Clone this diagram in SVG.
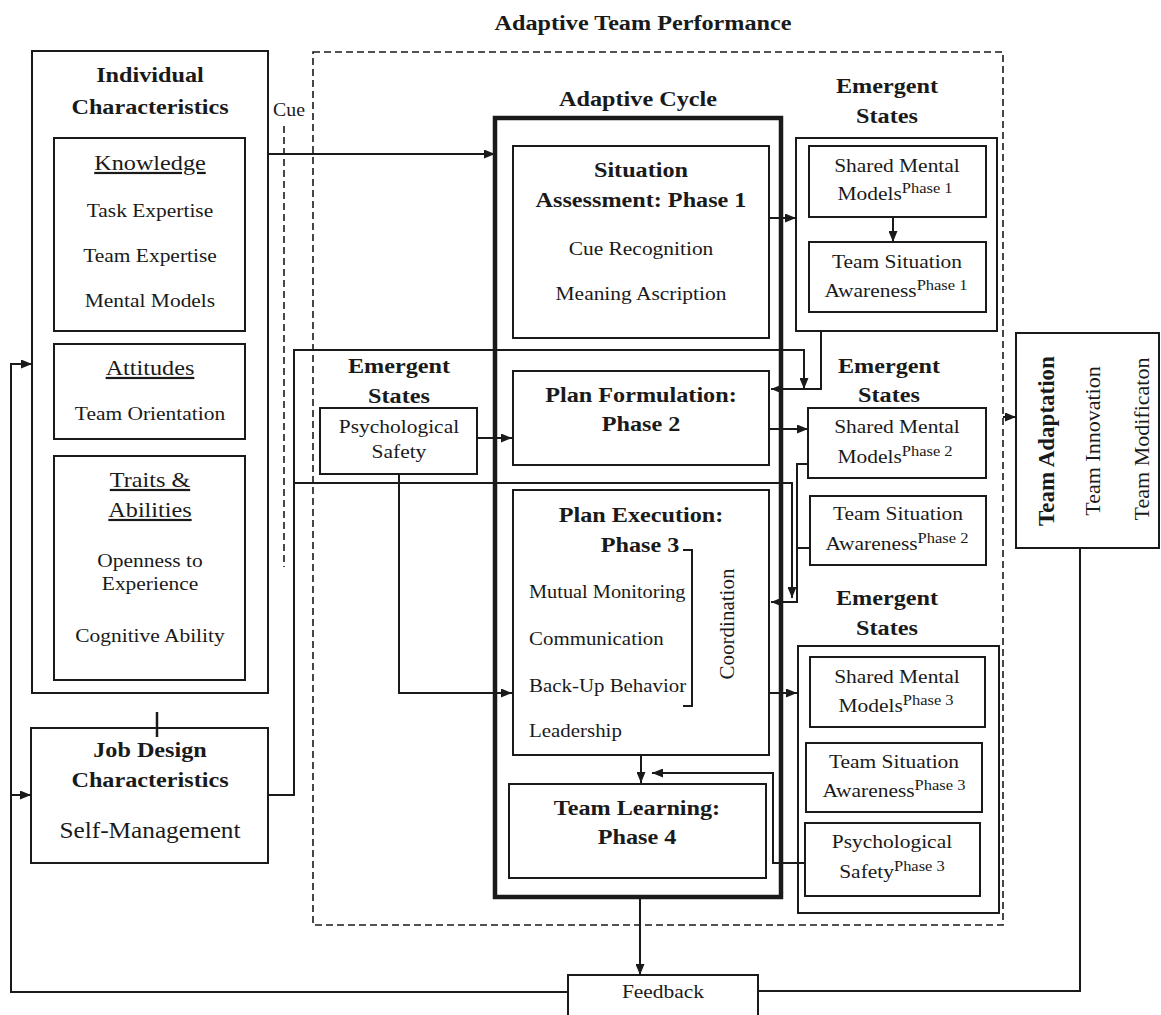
<svg xmlns="http://www.w3.org/2000/svg" width="1161" height="1015" viewBox="0 0 1161 1015">
<style>
text{font-family:"Liberation Serif","Times New Roman",serif;fill:#1a1a1a;font-size:19.5px;text-anchor:middle}
.s{transform-box:fill-box;transform-origin:center;transform:scaleX(1.1)}
.l{text-anchor:start;transform-box:fill-box;transform-origin:left center;transform:scaleX(1.1);font-size:19px}
.b{font-weight:bold;font-size:22px}
.u{text-decoration:underline;font-size:22px}
.sup{font-size:15px}
.box{fill:none;stroke:#1a1a1a;stroke-width:2}
.thick{fill:none;stroke:#1a1a1a;stroke-width:4.5}
.dash{fill:none;stroke:#1a1a1a;stroke-width:1.6;stroke-dasharray:7 4}
.c{fill:none;stroke:#1a1a1a;stroke-width:2}
.a{marker-end:url(#ah)}
</style>
<defs>
<marker id="ah" viewBox="0 0 10 10" refX="10" refY="5" markerWidth="11" markerHeight="9" markerUnits="userSpaceOnUse" orient="auto" preserveAspectRatio="none"><path d="M0,0 L10,5 L0,10 z" fill="#1a1a1a"/></marker>
</defs>
<rect width="1161" height="1015" fill="#fff"/>

<g id="adaptive-team-performance">
<rect class="dash" x="313" y="52" width="690" height="873"/>
<text class="s b" x="643" y="30">Adaptive Team Performance</text>
</g>

<g id="individual-characteristics">
<rect class="box" x="32" y="51" width="236" height="642"/>
<text class="s b" x="150" y="82">Individual</text>
<text class="s b" x="150" y="114">Characteristics</text>
<rect class="box" x="54" y="138" width="191" height="193"/>
<text class="s u" x="150" y="170">Knowledge</text>
<text class="s" x="150" y="217">Task Expertise</text>
<text class="s" x="150" y="262">Team Expertise</text>
<text class="s" x="150" y="307">Mental Models</text>
<rect class="box" x="54" y="344" width="191" height="95"/>
<text class="s u" x="150" y="375">Attitudes</text>
<text class="s" x="150" y="420">Team Orientation</text>
<rect class="box" x="54" y="456" width="191" height="224"/>
<text class="s u" x="150" y="487">Traits &amp;</text>
<text class="s u" x="150" y="517">Abilities</text>
<text class="s" x="150" y="567">Openness to</text>
<text class="s" x="150" y="590">Experience</text>
<text class="s" x="150" y="642">Cognitive Ability</text>
</g>

<g id="job-design">
<rect class="box" x="31" y="728" width="237" height="135"/>
<text class="s b" x="150" y="757">Job Design</text>
<text class="s b" x="150" y="787">Characteristics</text>
<text class="s" x="150" y="838" style="font-size:23px">Self-Management</text>
</g>

<g id="adaptive-cycle">
<rect class="thick" x="495" y="118" width="286" height="779"/>
<text class="s b" x="638" y="106">Adaptive Cycle</text>
</g>

<g id="situation-assessment">
<rect class="box" x="513" y="146" width="256" height="192"/>
<text class="s b" x="641" y="177">Situation</text>
<text class="s b" x="641" y="207">Assessment: Phase 1</text>
<text class="s" x="641" y="255">Cue Recognition</text>
<text class="s" x="641" y="300">Meaning Ascription</text>
</g>

<g id="plan-formulation">
<rect class="box" x="513" y="371" width="256" height="94"/>
<text class="s b" x="641" y="402">Plan Formulation:</text>
<text class="s b" x="641" y="431">Phase 2</text>
</g>

<g id="plan-execution">
<rect class="box" x="513" y="490" width="256" height="265"/>
<text class="s b" x="641" y="522">Plan Execution:</text>
<text class="s b" x="640" y="552">Phase 3</text>
<text class="l" x="529" y="598" style="font-size:18.5px">Mutual Monitoring</text>
<text class="l" x="529" y="645">Communication</text>
<text class="l" x="529" y="692">Back-Up Behavior</text>
<text class="l" x="529" y="737">Leadership</text>
<path class="c" d="M683,550 H692 V706 H683"/>
<text transform="translate(734,624) rotate(-90)" style="font-size:21px">Coordination</text>
</g>

<g id="team-learning">
<rect class="box" x="509" y="784" width="257" height="94"/>
<text class="s b" x="637" y="815">Team Learning:</text>
<text class="s b" x="637" y="844">Phase 4</text>
</g>

<g id="emergent-states-1">
<text class="s b" x="887" y="93">Emergent</text>
<text class="s b" x="887" y="123">States</text>
<rect class="box" x="796" y="138" width="201" height="193"/>
<rect class="box" x="809" y="146" width="177" height="71"/>
<text class="s" x="897" y="172">Shared Mental</text>
<text class="s" x="895" y="200">Models<tspan class="sup" dy="-7">Phase 1</tspan></text>
<rect class="box" x="809" y="242" width="177" height="70"/>
<text class="s" x="897" y="268">Team Situation</text>
<text class="s" x="896" y="297">Awareness<tspan class="sup" dy="-7">Phase 1</tspan></text>
</g>

<g id="emergent-states-ps">
<text class="s b" x="399" y="373">Emergent</text>
<text class="s b" x="399" y="403">States</text>
<rect class="box" x="320" y="408" width="157" height="66"/>
<text class="s" x="399" y="433">Psychological</text>
<text class="s" x="399" y="458">Safety</text>
</g>

<g id="emergent-states-2">
<text class="s b" x="889" y="373">Emergent</text>
<text class="s b" x="889" y="402">States</text>
<rect class="box" x="808" y="408" width="178" height="70"/>
<text class="s" x="897" y="433">Shared Mental</text>
<text class="s" x="895" y="463">Models<tspan class="sup" dy="-7">Phase 2</tspan></text>
<rect class="box" x="810" y="496" width="176" height="69"/>
<text class="s" x="898" y="520">Team Situation</text>
<text class="s" x="897" y="550">Awareness<tspan class="sup" dy="-7">Phase 2</tspan></text>
</g>

<g id="emergent-states-3">
<text class="s b" x="887" y="605">Emergent</text>
<text class="s b" x="887" y="635">States</text>
<rect class="box" x="798" y="646" width="201" height="267"/>
<rect class="box" x="810" y="657" width="175" height="70"/>
<text class="s" x="897" y="683">Shared Mental</text>
<text class="s" x="896" y="712">Models<tspan class="sup" dy="-7">Phase 3</tspan></text>
<rect class="box" x="806" y="743" width="176" height="69"/>
<text class="s" x="894" y="768">Team Situation</text>
<text class="s" x="894" y="797">Awareness<tspan class="sup" dy="-7">Phase 3</tspan></text>
<rect class="box" x="805" y="823" width="175" height="73"/>
<text class="s" x="892" y="848">Psychological</text>
<text class="s" x="892" y="878">Safety<tspan class="sup" dy="-7">Phase 3</tspan></text>
</g>

<g id="team-adaptation">
<rect class="box" x="1016" y="333" width="143" height="215"/>
<text transform="translate(1054,441) rotate(-90)" style="font-weight:bold;font-size:23px">Team Adaptation</text>
<text transform="translate(1100,441) rotate(-90)" style="font-size:22px">Team Innovation</text>
<text transform="translate(1149,439) rotate(-90)" style="font-size:22px">Team Modificaton</text>
</g>

<g id="feedback">
<rect class="box" x="568" y="975" width="190" height="60"/>
<text class="s" x="663" y="998">Feedback</text>
</g>

<g id="cue">
<text class="s" x="289" y="116" style="font-size:18px">Cue</text>
<line class="dash" x1="284" y1="126" x2="284" y2="567"/>
</g>

<g id="connectors">
<path class="c a" d="M268,154 H495"/>
<path class="c a" d="M769,218 H796"/>
<path class="c a" d="M893,217 V242"/>
<path class="c a" d="M821,331 V389 H771"/>
<path class="c a" d="M268,795 H294 V350 H804 V389"/>
<path class="c a" d="M294,483 H792 V598"/>
<path class="c a" d="M477,438 H512"/>
<path class="c a" d="M399,474 V693 H512"/>
<path class="c a" d="M769,429 H808"/>
<path class="c a" d="M808,464 H797 V602 H771"/>
<path class="c" d="M810,548 H797"/>
<path class="c a" d="M769,693 H797"/>
<path class="c a" d="M641,755 V783"/>
<path class="c a" d="M805,863 H773 V773 H652"/>
<path class="c a" d="M640,897 V975"/>
<path class="c" d="M758,991 H1080 V548"/>
<path class="c a" d="M568,992 H11 V364 H32"/>
<path class="c a" d="M11,795 H31"/>
<path class="c a" d="M1003,417 H1016"/>
<path class="c" d="M157,712 V737" style="stroke-width:2.5"/>
</g>
</svg>
